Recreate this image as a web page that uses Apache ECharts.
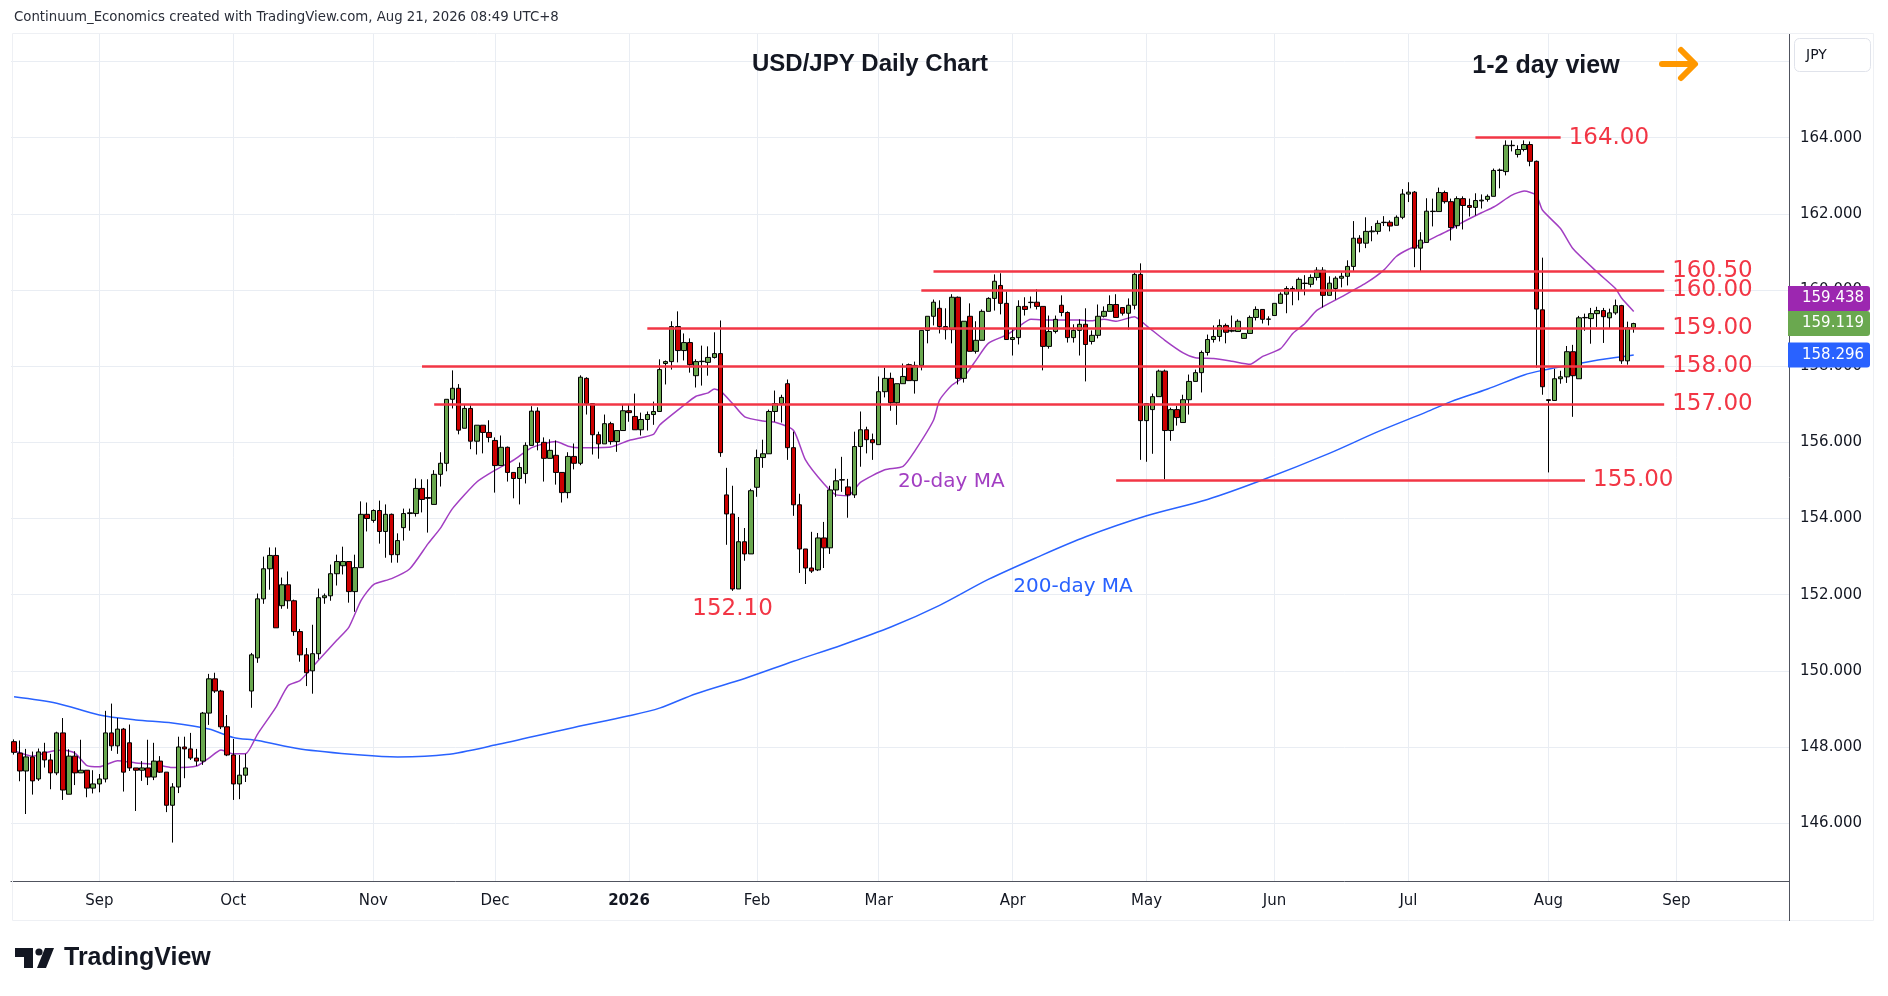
<!DOCTYPE html>
<html>
<head>
<meta charset="utf-8">
<title>USD/JPY Daily Chart</title>
<script src="https://cdn.jsdelivr.net/npm/echarts@6.0.0/dist/echarts.min.js"></script>
<style>
    html, body { margin: 0; padding: 0; background: #ffffff; }
    #chart { width: 1888px; height: 996px; }
</style>
</head>
<body>
<div id="chart"></div>
<script>
// trading days on the axis: weekdays from firstDay, FX holidays left out
var firstDay = '2025-08-12';
var dayCount = 292;
var holidays = ['2025-12-25', '2026-01-01'];
var monthNames = ['Jan', 'Feb', 'Mar', 'Apr', 'May', 'Jun', 'Jul', 'Aug', 'Sep', 'Oct', 'Nov', 'Dec'];

// one row per trading day from firstDay: [open, close, low, high]
var candles = [
    [148.14, 147.86, 147.80, 148.20], [147.84, 147.37, 147.10, 148.17], [147.37, 147.74, 146.24, 147.95],
    [147.74, 147.11, 146.75, 147.88], [147.16, 147.87, 147.11, 147.96], [147.87, 147.66, 147.46, 148.11],
    [147.66, 147.32, 146.89, 147.82], [147.32, 148.37, 147.26, 148.40], [148.37, 146.87, 146.61, 148.76],
    [146.76, 147.76, 146.76, 147.94], [147.76, 147.32, 147.00, 147.89], [147.32, 147.39, 147.32, 148.19],
    [147.39, 146.92, 146.68, 147.39], [146.92, 147.03, 146.78, 147.39], [147.03, 147.16, 146.81, 147.29],
    [147.16, 148.37, 147.07, 148.95], [148.37, 148.03, 147.90, 149.14], [148.03, 148.47, 147.82, 148.76],
    [148.47, 147.34, 146.83, 148.50], [148.11, 147.45, 147.37, 148.59], [147.45, 147.39, 146.32, 147.45],
    [147.39, 147.45, 147.11, 147.63], [147.45, 147.21, 147.00, 148.19], [147.21, 147.63, 147.13, 148.11],
    [147.63, 147.34, 147.32, 147.76], [147.34, 146.47, 146.29, 147.34], [146.47, 146.95, 145.49, 147.05],
    [146.95, 148.00, 146.79, 148.27], [148.00, 147.95, 147.18, 148.27], [147.95, 147.71, 147.66, 148.37],
    [147.71, 147.63, 147.50, 147.95], [147.63, 148.89, 147.53, 148.92], [148.89, 149.79, 148.58, 149.92],
    [149.79, 149.47, 149.42, 149.95], [149.47, 148.53, 148.47, 149.50], [148.53, 147.79, 147.76, 148.84],
    [147.79, 147.03, 146.61, 148.21], [147.03, 147.26, 146.63, 147.79], [147.26, 147.45, 147.08, 147.82],
    [149.47, 150.42, 149.03, 150.47], [150.34, 151.89, 150.21, 152.03], [151.89, 152.68, 151.76, 153.00],
    [152.68, 153.03, 152.13, 153.24], [153.03, 151.13, 151.13, 153.24], [151.71, 152.26, 151.63, 152.45],
    [152.26, 151.84, 151.63, 152.61], [151.84, 151.03, 150.92, 151.87], [151.03, 150.42, 150.24, 151.10],
    [150.42, 149.95, 149.60, 150.60], [150.00, 150.45, 149.40, 151.21], [150.45, 151.92, 150.30, 152.16],
    [151.92, 151.97, 151.76, 152.03], [151.97, 152.55, 151.84, 152.79], [152.55, 152.87, 152.24, 153.05],
    [152.76, 152.87, 152.53, 153.26], [152.87, 152.08, 151.79, 152.87], [152.08, 152.71, 151.55, 153.05],
    [152.71, 154.11, 152.71, 154.45], [154.11, 154.00, 153.66, 154.42], [153.95, 154.21, 153.89, 154.24],
    [154.21, 153.66, 153.34, 154.47], [153.66, 154.11, 152.97, 154.37], [154.11, 153.05, 152.84, 154.13],
    [153.05, 153.42, 152.84, 153.61], [153.76, 154.13, 153.42, 154.26], [154.13, 154.15, 153.68, 154.26],
    [154.13, 154.79, 154.05, 155.05], [154.79, 154.50, 154.16, 155.03], [154.53, 154.55, 153.63, 155.03],
    [154.37, 155.16, 154.37, 155.27], [155.16, 155.45, 154.84, 155.74], [155.45, 157.13, 155.24, 157.13],
    [157.13, 157.42, 156.89, 157.89], [157.42, 156.32, 156.21, 157.53], [156.37, 156.89, 156.37, 157.00],
    [156.89, 156.03, 155.82, 156.97], [156.03, 156.45, 155.68, 156.45], [156.45, 156.26, 155.71, 156.45],
    [156.26, 156.13, 156.00, 156.58], [156.05, 155.39, 154.68, 156.13], [155.39, 155.87, 155.39, 156.18],
    [155.87, 155.21, 154.97, 155.89], [155.21, 155.05, 154.53, 155.21], [155.05, 155.34, 154.37, 155.47],
    [155.18, 155.92, 154.92, 156.00], [155.92, 156.82, 155.92, 156.95], [156.82, 156.00, 155.79, 156.92],
    [156.00, 155.58, 154.97, 156.13], [155.58, 155.79, 155.58, 156.08], [155.66, 155.21, 154.89, 156.05],
    [155.21, 154.68, 154.42, 155.21], [154.68, 155.63, 154.53, 155.74], [155.63, 155.45, 155.29, 155.97],
    [155.45, 157.71, 155.40, 157.76], [157.68, 157.02, 156.73, 157.71], [157.02, 156.20, 155.68, 157.02],
    [156.20, 155.96, 155.57, 156.28], [155.96, 156.49, 155.96, 156.73], [156.49, 156.02, 155.94, 156.54],
    [156.02, 156.31, 155.75, 156.31], [156.31, 156.83, 156.31, 156.99], [156.83, 156.78, 156.54, 156.99],
    [156.68, 156.33, 156.33, 157.28], [156.33, 156.60, 156.18, 156.78], [156.60, 156.73, 156.31, 156.81],
    [156.73, 156.81, 156.46, 157.07], [156.81, 157.91, 156.81, 158.18], [158.07, 158.12, 157.52, 158.15],
    [158.12, 159.04, 157.91, 159.18], [159.04, 158.41, 158.10, 159.44], [158.41, 158.62, 158.15, 158.86],
    [158.62, 158.04, 157.83, 158.73], [157.75, 158.12, 157.44, 158.18], [158.12, 158.13, 157.49, 158.54],
    [158.10, 158.23, 157.75, 158.52], [158.23, 158.33, 158.20, 158.89], [158.33, 155.73, 155.62, 159.20],
    [154.62, 154.12, 153.31, 155.33], [154.12, 152.15, 152.10, 154.86], [152.15, 153.39, 152.15, 154.04],
    [153.39, 153.07, 152.89, 153.75], [153.07, 154.73, 153.07, 154.78], [154.82, 155.60, 154.57, 155.81],
    [155.60, 155.70, 155.33, 156.07], [155.70, 156.81, 155.70, 156.86], [156.81, 157.02, 156.54, 157.36],
    [157.02, 157.18, 156.52, 157.25], [157.54, 155.86, 155.54, 157.65], [155.86, 154.36, 154.07, 156.28],
    [154.36, 153.20, 152.57, 154.65], [153.20, 152.70, 152.28, 153.20], [152.70, 152.62, 152.57, 153.65],
    [152.65, 153.49, 152.62, 153.62], [153.49, 153.23, 152.70, 153.91], [153.23, 154.75, 153.07, 154.86],
    [154.75, 154.99, 154.57, 155.31], [155.02, 155.01, 154.70, 155.62], [154.83, 154.62, 154.02, 155.04],
    [154.62, 155.89, 154.54, 156.28], [155.89, 156.33, 155.36, 156.81], [156.33, 156.07, 155.71, 156.41],
    [156.07, 155.99, 155.54, 156.23], [155.94, 157.33, 155.94, 157.73], [157.33, 157.68, 157.18, 157.96],
    [157.68, 157.04, 156.83, 157.83], [157.04, 157.54, 156.46, 157.54], [157.54, 157.73, 157.54, 158.07],
    [158.04, 157.62, 157.62, 158.07], [157.62, 158.02, 157.28, 158.12], [158.02, 158.94, 157.89, 158.94],
    [158.94, 159.31, 158.60, 159.31], [159.31, 159.68, 159.07, 159.75], [159.52, 159.04, 158.86, 159.73],
    [159.04, 158.96, 158.70, 159.52], [158.96, 159.81, 158.60, 159.89], [159.81, 157.68, 157.52, 159.83],
    [157.68, 159.18, 157.57, 159.18], [159.31, 158.39, 158.39, 159.65], [158.39, 158.68, 158.33, 159.18],
    [158.68, 159.44, 158.68, 159.49], [159.44, 159.78, 159.44, 159.81], [159.78, 160.23, 159.46, 160.41],
    [160.12, 159.65, 159.36, 160.44], [159.65, 158.70, 158.70, 159.96], [158.70, 158.75, 158.28, 158.99],
    [158.75, 159.57, 158.57, 159.73], [159.57, 159.49, 159.33, 159.81], [159.67, 159.68, 159.52, 159.83],
    [159.68, 159.57, 159.49, 160.02], [159.57, 158.52, 157.89, 159.57], [158.52, 158.91, 158.46, 159.33],
    [158.91, 159.23, 158.86, 159.33], [159.60, 159.41, 159.31, 159.86], [159.41, 158.75, 158.62, 159.44],
    [158.75, 158.94, 158.62, 159.10], [158.94, 159.10, 158.28, 159.23], [159.10, 158.57, 157.60, 159.52],
    [158.65, 158.81, 158.57, 158.94], [158.81, 159.31, 158.73, 159.62], [159.31, 159.44, 159.28, 159.57],
    [159.44, 159.62, 159.44, 159.86], [159.62, 159.28, 159.28, 159.89], [159.54, 159.39, 159.33, 159.54],
    [159.39, 159.60, 158.96, 159.78], [159.60, 160.41, 159.49, 160.46], [160.41, 156.57, 155.54, 160.70],
    [156.57, 157.02, 155.49, 157.02], [156.86, 157.20, 155.70, 157.28], [157.20, 157.87, 157.20, 157.91],
    [157.87, 156.31, 155.03, 157.91], [156.31, 156.86, 156.04, 156.91], [156.86, 156.65, 156.44, 156.96],
    [156.52, 157.12, 156.52, 157.25], [157.12, 157.60, 156.73, 157.78], [157.60, 157.83, 157.60, 157.91],
    [157.83, 158.36, 157.31, 158.41], [158.36, 158.70, 158.28, 158.83], [158.70, 158.78, 158.62, 159.07],
    [158.78, 159.07, 158.65, 159.23], [159.07, 158.89, 158.60, 159.12], [158.92, 158.94, 158.89, 159.33],
    [158.91, 159.18, 158.91, 159.23], [158.73, 158.86, 158.73, 158.86], [158.86, 159.28, 158.86, 159.33],
    [159.28, 159.49, 159.20, 159.57], [159.49, 159.23, 159.12, 159.49], [159.23, 159.24, 159.07, 159.31],
    [159.33, 159.65, 159.33, 159.65], [159.65, 159.89, 159.65, 159.94], [159.89, 160.04, 159.39, 160.10],
    [160.04, 159.99, 159.60, 160.10], [159.99, 160.28, 159.73, 160.33], [160.17, 160.18, 159.86, 160.39],
    [160.15, 160.33, 160.07, 160.41], [160.33, 160.52, 160.25, 160.60], [160.52, 159.86, 159.54, 160.60],
    [159.86, 160.18, 159.86, 160.36], [160.04, 160.31, 159.75, 160.36], [160.31, 160.36, 160.07, 160.46],
    [160.36, 160.62, 160.12, 160.78], [160.62, 161.36, 160.49, 161.81], [161.36, 161.23, 160.99, 161.44],
    [161.23, 161.54, 161.10, 161.91], [161.53, 161.55, 161.28, 161.68], [161.54, 161.75, 161.46, 161.83],
    [161.77, 161.78, 161.68, 161.94], [161.78, 161.68, 161.54, 161.83], [161.70, 161.91, 161.70, 161.96],
    [161.91, 162.52, 161.86, 162.65], [162.52, 162.57, 162.31, 162.83], [162.57, 161.10, 160.60, 162.60],
    [161.10, 161.31, 160.49, 161.52], [161.25, 162.07, 161.25, 162.41], [162.06, 162.07, 161.67, 162.40],
    [162.06, 162.56, 162.06, 162.69], [162.56, 162.32, 162.27, 162.61], [162.32, 161.64, 161.30, 162.40],
    [161.69, 162.40, 161.61, 162.46], [162.40, 162.22, 161.59, 162.46], [162.22, 162.17, 161.93, 162.40],
    [162.17, 162.35, 161.96, 162.54], [162.34, 162.36, 162.14, 162.51], [162.38, 162.46, 162.32, 162.51],
    [162.46, 163.14, 162.46, 163.19], [163.14, 163.15, 162.67, 163.19], [163.11, 163.80, 163.01, 163.93],
    [163.79, 163.80, 163.64, 163.93], [163.56, 163.69, 163.48, 163.80], [163.69, 163.82, 163.64, 163.93],
    [163.82, 163.38, 163.25, 163.90], [163.38, 159.50, 157.96, 163.40], [159.48, 157.46, 157.25, 160.85],
    [157.12, 157.10, 155.21, 157.12], [157.10, 157.67, 157.10, 157.93], [157.67, 157.72, 157.54, 157.88],
    [157.72, 158.38, 157.56, 158.53], [158.38, 157.75, 156.67, 158.56], [157.67, 159.27, 157.67, 159.32],
    [159.27, 159.28, 158.93, 159.38], [159.25, 159.38, 158.59, 159.53], [159.38, 159.46, 159.03, 159.56],
    [159.46, 159.30, 158.61, 159.53], [159.27, 159.40, 158.98, 159.51], [159.40, 159.59, 159.35, 159.75],
    [159.59, 158.14, 158.06, 159.61], [158.14, 159.01, 158.04, 159.17], [159.01, 159.119, 158.88, 159.14]
];

// moving averages: [trading day index, value]
var ma20 = [
    [0, 147.90], [3, 147.76], [6, 147.88], [8, 147.92], [10, 147.84], [12, 147.51], [14, 147.48],
    [17, 147.64], [20, 147.58], [23, 147.55], [26, 147.46], [30, 147.50], [32, 147.71], [34, 147.92],
    [36, 147.82], [38, 147.82], [40, 148.34], [43, 149.04], [45, 149.61], [47, 149.75], [50, 150.28],
    [53, 150.80], [55, 151.15], [57, 151.85], [59, 152.26], [62, 152.42], [65, 152.68], [68, 153.34],
    [70, 153.74], [72, 154.26], [76, 154.96], [79, 155.27], [82, 155.53], [85, 155.86], [89, 156.02],
    [91, 155.90], [93, 155.86], [98, 155.88], [101, 156.05], [105, 156.21], [106, 156.45], [110, 156.97],
    [112, 157.21], [114, 157.30], [115, 157.40], [116, 157.35], [118, 157.02], [120, 156.67], [123, 156.56],
    [125, 156.53], [128, 156.32], [130, 155.53], [133, 154.91], [135, 154.62], [137, 154.60], [139, 154.95],
    [143, 155.28], [146, 155.37], [148, 155.79], [151, 156.58], [152, 157.11], [154, 157.50], [156, 157.72],
    [158, 158.16], [160, 158.60], [163, 158.82], [165, 159.04], [167, 159.23], [170, 159.21], [175, 159.21],
    [177, 159.19], [179, 159.23], [181, 159.18], [184, 159.30], [186, 159.06], [189, 158.68], [192, 158.35],
    [194, 158.22], [197, 158.20], [200, 158.13], [203, 158.05], [205, 158.25], [208, 158.46], [210, 158.86],
    [212, 159.12], [214, 159.47], [218, 159.82], [222, 160.18], [225, 160.53], [227, 160.88], [229, 161.07],
    [231, 161.20], [234, 161.44], [236, 161.60], [238, 161.79], [241, 162.03], [243, 162.18], [246, 162.49],
    [248, 162.60], [250, 162.49], [251, 162.10], [254, 161.61], [256, 161.09], [260, 160.47], [263, 160.04],
    [264, 159.79], [266, 159.438]
];
var ma200 = [
    [0, 149.32], [7, 149.15], [14, 148.84], [20, 148.71], [26, 148.63], [32, 148.47], [36, 148.25],
    [40, 148.17], [47, 147.95], [57, 147.79], [63, 147.74], [71, 147.80], [79, 148.05], [91, 148.48],
    [101, 148.82], [106, 149.02], [112, 149.40], [120, 149.80], [128, 150.25], [136, 150.68], [144, 151.15],
    [152, 151.72], [160, 152.40], [168, 152.98], [176, 153.52], [186, 154.07], [196, 154.50], [205, 155.01],
    [216, 155.71], [224, 156.28], [232, 156.80], [236, 157.07], [242, 157.40], [248, 157.77], [251, 157.89],
    [256, 158.04], [261, 158.18], [266, 158.296]
];

// horizontal levels and where they are drawn
var levelValues = [164, 160.5, 160, 159, 158, 157, 155];
var levelFrom = ['2026-07-16', '2026-03-13', '2026-03-11', '2026-01-07', '2025-11-13', '2025-11-17', '2026-04-24'];
var levelTo = ['2026-08-05', '2026-08-28', '2026-08-28', '2026-08-28', '2026-08-28', '2026-08-28', '2026-08-11'];

var lowNote = {date: '2026-01-27', value: 152.10, text: '152.10'};
var maNotes = [
    {date: '2026-03-18', value: 154.96, text: '20-day MA'},
    {date: '2026-04-15', value: 152.20, text: '200-day MA'}
];
var priceTicks = [146, 148, 150, 152, 154, 156, 158, 160, 162, 164, 166];

var red = '#f23645';
var purple = '#a23ec2';
var blue = '#2962ff';
var font = 'DejaVu Sans';

var days = [];
(function() {
    var d = new Date(firstDay + 'T00:00:00Z');
    while (days.length < dayCount) {
        var s = d.toISOString().slice(0, 10);
        var wd = d.getUTCDay();
        if (wd !== 0 && wd !== 6 && holidays.indexOf(s) < 0) days.push(s);
        d.setUTCDate(d.getUTCDate() + 1);
    }
})();

var isMonthStart = function(i) {
    return i > 0 && days[i].slice(0, 7) !== days[i - 1].slice(0, 7);
};

var toCat = function(list) {
    return list.map(function(p) { return [days[p[0]], p[1]]; });
};

var noteLabel = function(note, color) {
    return {
        coord: [note.date, note.value],
        symbol: 'circle',
        symbolSize: 1,
        itemStyle: {color: 'rgba(0,0,0,0)'},
        label: {
            show: true, position: [0, 0], align: 'center', verticalAlign: 'middle',
            formatter: note.text, color: color, fontSize: 20, fontFamily: font
        }
    };
};

var chart = echarts.init(document.getElementById('chart'));

var option = {
    animation: false,
    backgroundColor: '#ffffff',
    textStyle: {fontFamily: font},
    grid: {left: 11, right: 99, top: 34, bottom: 115},
    xAxis: {
        type: 'category',
        data: days,
        boundaryGap: true,
        axisLine: {lineStyle: {color: '#50535e', width: 1}},
        axisTick: {show: false},
        axisLabel: {
            interval: function(i) { return isMonthStart(i); },
            formatter: function(value) {
                var m = parseInt(value.slice(5, 7), 10) - 1;
                return m === 0 ? '{y|' + value.slice(0, 4) + '}' : monthNames[m];
            },
            color: '#131722',
            fontSize: 15,
            margin: 13,
            rich: {y: {fontWeight: 'bold', fontSize: 15, color: '#131722', fontFamily: font}}
        },
        splitLine: {
            show: true,
            alignWithLabel: true,
            interval: function(i) { return isMonthStart(i); },
            lineStyle: {color: '#e9edf3', width: 1}
        }
    },
    yAxis: {
        type: 'value',
        position: 'right',
        min: 144.481,
        max: 166.723,
        axisLine: {show: false},
        axisTick: {show: false, customValues: priceTicks},
        axisLabel: {
            customValues: priceTicks,
            formatter: function(v) { return v.toFixed(3); },
            color: '#131722',
            fontSize: 15,
            margin: 11
        },
        splitLine: {show: true, lineStyle: {color: '#e9edf3', width: 1}}
    },
    series: [
        {
            type: 'line',
            name: '200-day MA',
            data: toCat(ma200),
            showSymbol: false,
            smooth: 0.3,
            z: 2,
            lineStyle: {color: blue, width: 1.5},
            markPoint: {silent: true, data: [noteLabel(maNotes[1], blue)]}
        },
        {
            type: 'line',
            name: '20-day MA',
            data: toCat(ma20),
            showSymbol: false,
            smooth: 0.2,
            z: 2,
            lineStyle: {color: purple, width: 1.5},
            markPoint: {silent: true, data: [noteLabel(maNotes[0], purple)]}
        },
        {
            type: 'candlestick',
            name: 'USDJPY',
            data: candles,
            barWidth: 5,
            z: 3,
            itemStyle: {
                color: '#6aa84f', color0: '#cc0000',
                borderColor: '#000000', borderColor0: '#000000', borderWidth: 1
            },
            markLine: {
                silent: true,
                symbol: ['none', 'none'],
                lineStyle: {color: red, width: 2.5, type: 'solid'},
                label: {show: true, position: 'end', distance: 8, color: red, fontSize: 23, fontFamily: font},
                data: levelValues.map(function(v, k) {
                    return [
                        {coord: [levelFrom[k], v], label: {formatter: v.toFixed(2)}},
                        {coord: [levelTo[k], v]}
                    ];
                })
            },
            markPoint: {
                silent: true,
                data: [{
                    coord: [lowNote.date, lowNote.value],
                    symbol: 'circle',
                    symbolSize: 1,
                    itemStyle: {color: 'rgba(0,0,0,0)'},
                    label: {
                        show: true, position: 'bottom', distance: 6,
                        formatter: lowNote.text, color: red, fontSize: 23, fontFamily: font
                    }
                }]
            }
        }
    ]
};
chart.setOption(option);

// price tags on the axis: 20-day MA, last close, 200-day MA
var lastClose = candles[candles.length - 1][1];
var tags = [
    {value: ma20[ma20.length - 1][1], color: '#9c27b0'},
    {value: lastClose, color: '#6aa84f'},
    {value: ma200[ma200.length - 1][1], color: blue}
];
tags.forEach(function(t) { t.y = chart.convertToPixel({yAxisIndex: 0}, t.value); });
if (tags[0].y > tags[1].y - 25) tags[0].y = tags[1].y - 25;
if (tags[2].y < tags[1].y + 25) tags[2].y = tags[1].y + 25;

var graphics = [
    {type: 'rect', z: 1, silent: true, shape: {x: 12.5, y: 33.5, width: 1861, height: 887},
        style: {fill: null, stroke: '#eef0f4', lineWidth: 1}},
    {type: 'line', z: 50, silent: true, shape: {x1: 1789.5, y1: 34, x2: 1789.5, y2: 921},
        style: {stroke: '#50535e', lineWidth: 1}},
    {type: 'text', z: 100, left: 14, top: 11,
        style: {text: 'Continuum_Economics created with TradingView.com, Aug 21, 2026 08:49 UTC+8',
            fill: '#2a2e39', font: '13.3px "DejaVu Sans"'}},
    {type: 'text', z: 100, x: 870, y: 64,
        style: {text: 'USD/JPY Daily Chart', fill: '#131722', font: 'bold 24px "Liberation Sans"',
            textAlign: 'center', textVerticalAlign: 'middle'}},
    {type: 'text', z: 100, x: 1546, y: 66,
        style: {text: '1-2 day view', fill: '#131722', font: 'bold 25px "Liberation Sans"',
            textAlign: 'center', textVerticalAlign: 'middle'}},
    {type: 'line', z: 100, shape: {x1: 1662, y1: 64, x2: 1693, y2: 64},
        style: {stroke: '#ff9800', lineWidth: 6, lineCap: 'round'}},
    {type: 'polyline', z: 100, shape: {points: [[1681, 50], [1695, 64], [1681, 78]]},
        style: {stroke: '#ff9800', fill: null, lineWidth: 6, lineCap: 'round', lineJoin: 'round'}},
    {type: 'rect', z: 100, shape: {x: 1794.5, y: 38.5, width: 76, height: 33, r: 5},
        style: {fill: '#ffffff', stroke: '#e0e3eb', lineWidth: 1}},
    {type: 'text', z: 101, x: 1806, y: 55,
        style: {text: 'JPY', fill: '#131722', font: '14px "DejaVu Sans"', textVerticalAlign: 'middle'}},
    // TradingView logo
    {type: 'polygon', z: 100, shape: {points: [[15, 948], [33, 948], [33, 968], [24, 968], [24, 957], [15, 957]]},
        style: {fill: '#131722'}},
    {type: 'circle', z: 100, shape: {cx: 39, cy: 952, r: 3.6}, style: {fill: '#131722'}},
    {type: 'polygon', z: 100, shape: {points: [[45, 948], [54, 948], [46, 968], [37, 968]]},
        style: {fill: '#131722'}},
    {type: 'text', z: 100, x: 64, y: 958,
        style: {text: 'TradingView', fill: '#131722', font: 'bold 25px "Liberation Sans"', textVerticalAlign: 'middle'}}
];
tags.forEach(function(t) {
    graphics.push({type: 'rect', z: 110, shape: {x: 1788, y: t.y - 12.5, width: 82, height: 25, r: [0, 3, 3, 0]},
        style: {fill: t.color}});
    graphics.push({type: 'text', z: 111, x: 1802, y: t.y,
        style: {text: t.value.toFixed(3), fill: '#ffffff', font: '15px "DejaVu Sans"', textVerticalAlign: 'middle'}});
});
chart.setOption({graphic: {elements: graphics}});
</script>
</body>
</html>
